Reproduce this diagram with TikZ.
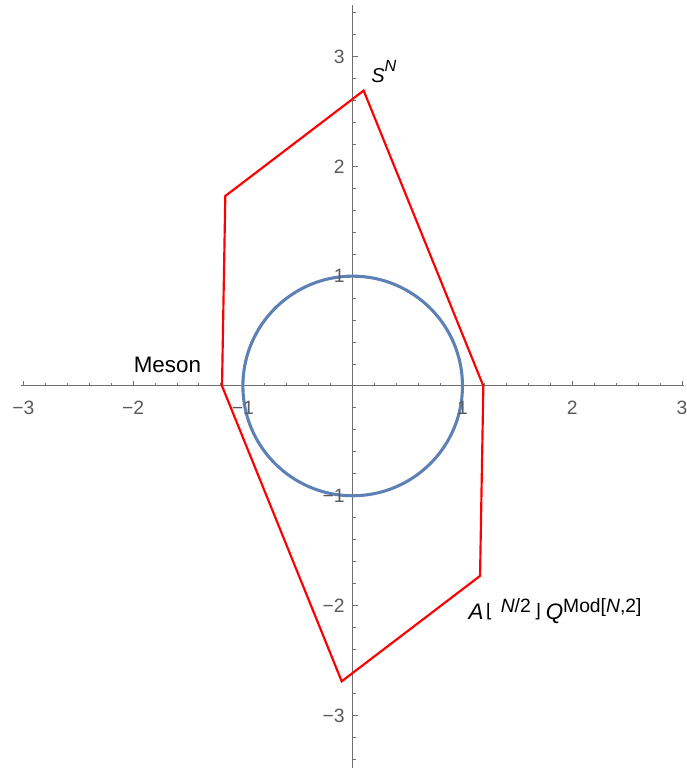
\documentclass[tikz,border=0pt]{standalone}
\usepackage{fontspec}
\setmainfont{Liberation Sans}
\newfontfamily\symfont{DejaVu Sans}
\definecolor{axisgray}{RGB}{110, 110, 110}
\definecolor{labelgray}{RGB}{90, 90, 90}
\definecolor{curveblue}{RGB}{94, 129, 181}
\usetikzlibrary{positioning}
\newcommand\upscript[2]{\raisebox{#1}{\fontsize{12.5}{13}\selectfont #2}}
\newcommand\floorsym[1]{\raisebox{1pt}{\symfont\fontsize{12}{12}\selectfont #1}}

\begin{document}
\begin{tikzpicture}[
        x=2.5cm, y=2.5cm,
        axis/.style={draw=axisgray, line width=0.6pt},
        ticklabel/.style={text=labelgray, font=\fontsize{12.5}{13}\selectfont, inner sep=0pt},
        polygon/.style={draw=red, line width=1.4pt, line join=miter},
        circ/.style={draw=curveblue, line width=2pt},
        tag/.style={font=\fontsize{14.5}{16}\selectfont, inner sep=0pt}
    ]
        \useasboundingbox (-3.212,-3.525) rectangle (3.036,3.515);

        % Axes
        \draw[axis] (-3.02,0) -- (3.02,0);
        \draw[axis] (0,-3.48) -- (0,3.47);

        % Ticks
        \foreach \k in {-15,...,15} {
            \draw[axis] (\k/5,0) -- (\k/5,0.027);
        }
        \foreach \k in {-17,...,17} {
            \draw[axis] (0,\k/5) -- (0.027,\k/5);
        }
        \foreach \x in {-3,-2,-1,1,2,3} {
            \draw[axis] (\x,0) -- (\x,0.046);
            \draw[axis] (0,\x) -- (0.046,\x);
        }

        % Unit circle
        \draw[circ] (0,0) circle (1);

        % Polygon
        \coordinate (top) at (0.10,2.69);
        \coordinate (ul) at (-1.16,1.73);
        \coordinate (lf) at (-1.19,0);
        \coordinate (bot) at (-0.10,-2.69);
        \coordinate (lr) at (1.16,-1.73);
        \coordinate (rt) at (1.19,0);
        \draw[polygon] (top) -- (ul) -- (lf) -- (bot) -- (lr) -- (rt) -- cycle;

        % Tick labels
        \foreach \x/\t in {-3/−3,-2/−2,-1/−1,1/1,2/2,3/3} {
            \node[ticklabel] (xl\x) at (\x,-0.2) {\t};
            \node[ticklabel, anchor=east] (yl\x) at (-0.07,\x) {\t};
        }

        % Vertex labels
        \node[tag, anchor=base] (meson) at (-1.687,0.118) {Meson};
        \node[tag, font=\fontsize{13}{14}\selectfont, anchor=base west] (sn) at (0.167,2.762)
            {\textit{S}\raisebox{7pt}{\fontsize{10.5}{11}\selectfont\textit{N}}};
        \node[tag, anchor=base west] (aq) at (1.053,-2.125)
            {\textit{A}\hspace{1.5pt}\floorsym{⌊}\hspace{5pt}\upscript{4.5pt}{\textit{N}/2}\hspace{2pt}\floorsym{⌋}\hspace{3pt}\textit{Q}\upscript{4.5pt}{Mod[\textit{N},2]}};
    \end{tikzpicture}
\end{document}
